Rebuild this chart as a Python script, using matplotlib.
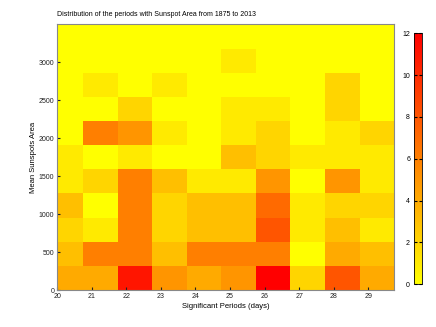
import numpy as np
import matplotlib
matplotlib.use("Agg")
import matplotlib.pyplot as plt

plt.rcParams['font.family'] = ['Liberation Sans', 'DejaVu Sans']

# bin edges for period (days) and mean sunspot area
x_edges = np.arange(19.75, 30.0, 1.0)
y_edges = np.linspace(0, 3500, 12)

x_ticks = [20, 21, 22, 23, 24, 25, 26, 27, 28, 29]
y_ticks = [0, 500, 1000, 1500, 2000, 2500, 3000]

# counts per cell, bottom row first, columns 20..29
row0 = [4, 4, 11, 5, 4, 5, 12, 2, 8, 4]
row1 = [3, 6, 6, 3, 6, 6, 6, 0, 4, 3]
row2 = [2, 1, 6, 2, 3, 3, 8, 1, 3, 1]
row3 = [3, 0, 6, 2, 3, 3, 7, 1, 2, 2]
row4 = [1, 2, 6, 3, 1, 1, 5, 0, 5, 1]
row5 = [1, 0, 1, 0, 0, 3, 2, 1, 1, 1]
row6 = [0, 6, 5, 1, 0, 1, 2, 0, 1, 2]
row7 = [0, 0, 2, 0, 0, 1, 1, 0, 2, 0]
row8 = [0, 1, 0, 1, 0, 0, 0, 0, 2, 0]
row9 = [0, 0, 0, 0, 0, 1, 0, 0, 0, 0]
row10 = [0, 0, 0, 0, 0, 0, 0, 0, 0, 0]

counts = np.array([row0, row1, row2, row3, row4, row5, row6,
                   row7, row8, row9, row10])

fig = plt.figure(figsize=(4.36, 3.27), dpi=100)
ax = fig.add_axes([0.131, 0.113, 0.773, 0.8125])
mesh = ax.pcolormesh(x_edges, y_edges, counts, cmap='autumn_r',
                     vmin=0, vmax=12)
ax.set_xlim(20, 29.75)
ax.set_ylim(0, 3500)
ax.set_xticks(x_ticks)
ax.set_yticks(y_ticks)
ax.tick_params(direction='in', length=2, labelsize=5, colors='#222222',
               pad=2)
for s in ax.spines.values():
    s.set_color('#888888')
    s.set_linewidth(0.8)
ax.set_xlabel("Significant Periods (days)", fontsize=5.5, labelpad=2)
ax.set_ylabel("Mean Sunspots Area", fontsize=5.5, labelpad=1)
ax.set_title("Distribution of the periods with Sunspot Area from 1875 to 2013",
             fontsize=5, loc='left', pad=6)

# colorbar, labels on the left like the original
cax = fig.add_axes([0.950, 0.1306, 0.017, 0.768])
cb = fig.colorbar(mesh, cax=cax, ticks=[0, 2, 4, 6, 8, 10, 12])
cax.yaxis.set_ticks_position('both')
cax.yaxis.set_label_position('left')
cax.tick_params(direction='in', length=2, labelsize=5, labelleft=True,
                labelright=False, pad=3)
cb.outline.set_linewidth(0.6)

fig.savefig("out.png", dpi=100)
